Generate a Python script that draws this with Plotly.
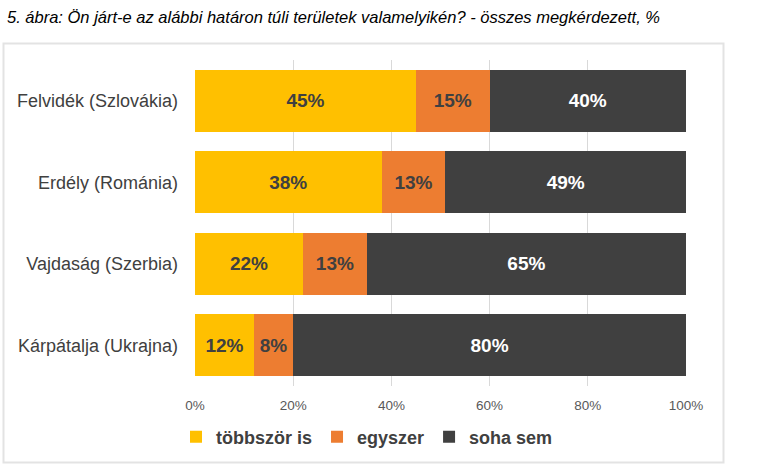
import plotly.graph_objects as go

categories = ["Felvidék (Szlovákia)", "Erdély (Románia)", "Vajdaság (Szerbia)", "Kárpátalja (Ukrajna)"]
tobbszor_is = [45, 38, 22, 12]
egyszer = [15, 13, 13, 8]
soha_sem = [40, 49, 65, 80]
series_names = ["többször is", "egyszer", "soha sem"]
tick_vals = [0, 20, 40, 60, 80, 100]
tick_text = ["0%", "20%", "40%", "60%", "80%", "100%"]
title_text = "5. ábra: Ön járt-e az alábbi határon túli területek valamelyikén? - összes megkérdezett, %"

W, H = 770, 474
ML, MR, MT, MB = 195, 84, 60, 88
PW = W - ML - MR
PH = H - MT - MB

def px_x(p):
    return (p - ML) / PW

def px_y(p):
    return (H - MB - p) / PH

FONT = "Liberation Sans, Arial, Helvetica, sans-serif"
colors = ["#FFC000", "#ED7D31", "#404040"]
text_colors = ["#404040", "#404040", "#FFFFFF"]

fig = go.Figure()
for name, vals, c, tc in zip(series_names, [tobbszor_is, egyszer, soha_sem], colors, text_colors):
    fig.add_trace(go.Bar(
        y=categories, x=vals, name=name, orientation="h",
        marker=dict(color=c, line=dict(width=0)),
        text=[f"{v}%" for v in vals], textposition="inside",
        insidetextanchor="middle", textangle=0,
        textfont=dict(family=FONT, size=19, color=tc, weight="bold"),
        hoverinfo="skip",
    ))

fig.update_layout(
    width=W, height=H,
    margin=dict(l=ML, r=MR, t=MT, b=MB),
    barmode="stack", bargap=0.24,
    plot_bgcolor="white", paper_bgcolor="white",
    font=dict(family=FONT, color="#404040"),
    uniformtext=dict(mode="show", minsize=19),
    title=dict(text=title_text, x=7 / W, xanchor="left", y=1 - 17 / H, yanchor="middle",
               xref="container", yref="container",
               font=dict(family=FONT, size=16.5, color="#000000", style="italic")),
    xaxis=dict(range=[0, 100], tickvals=tick_vals, ticktext=tick_text,
               showgrid=True, gridcolor="#D9D9D9", gridwidth=1, zeroline=False,
               showline=False, ticks="", ticklabelstandoff=9,
               tickfont=dict(family=FONT, size=13.5, color="#595959"), fixedrange=True),
    yaxis=dict(categoryorder="array", categoryarray=categories, autorange="reversed",
               showgrid=False, zeroline=False, showline=False, ticks="",
               ticklabelstandoff=16,
               tickfont=dict(family=FONT, size=18, color="#404040"), fixedrange=True),
    legend=dict(orientation="h", x=px_x(367), xanchor="center", y=px_y(437), yanchor="middle",
                font=dict(family=FONT, size=18, color="#404040", weight="bold"),
                traceorder="normal", itemwidth=30, bgcolor="rgba(0,0,0,0)"),
    shapes=[dict(type="rect", xref="paper", yref="paper",
                 x0=px_x(3.5), x1=px_x(723.5), y0=px_y(462.5), y1=px_y(43.5),
                 line=dict(color="#E3E3E3", width=2), fillcolor="rgba(0,0,0,0)", layer="below")],
)

fig.write_html("out.html", config={"displayModeBar": False},
               post_script="document.body.style.margin='0px';")
